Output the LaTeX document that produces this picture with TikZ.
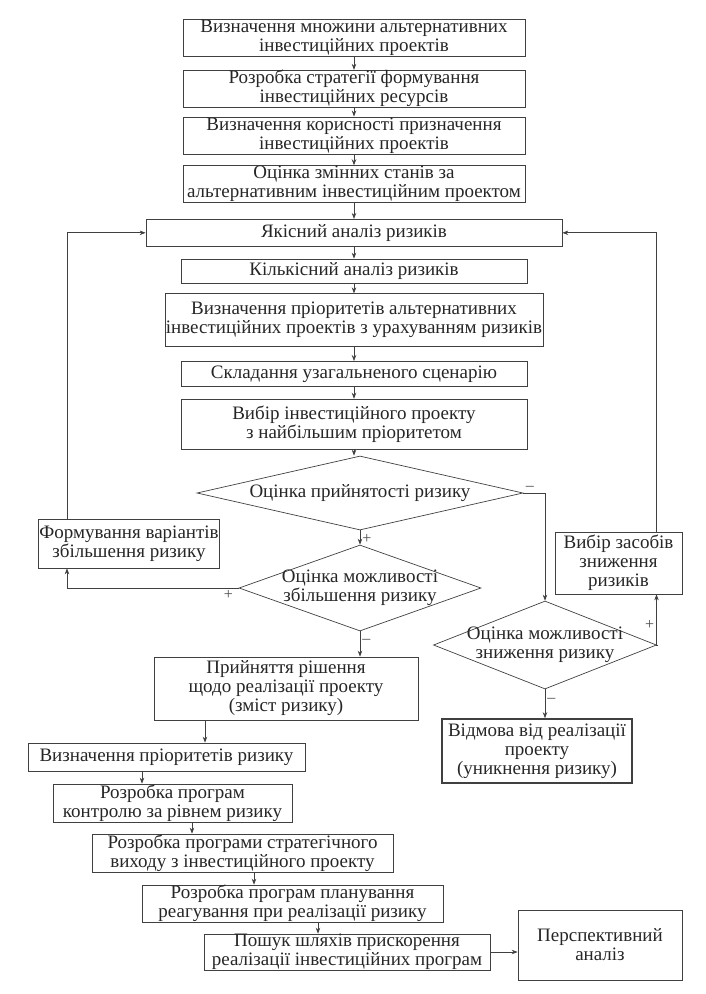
\documentclass[tikz,border=0pt]{standalone}
\usepackage{fontspec}
\setmainfont{Liberation Serif}
\usetikzlibrary{arrows.meta, positioning, shapes.geometric, calc}

\begin{document}
\begin{tikzpicture}[
  x=1pt, y=1pt,
  font=\fontsize{19}{19}\selectfont,
  >={Stealth[length=6pt, width=4.5pt]},
  line width=0.7pt,
  node distance=12pt,
  box/.style={draw=black!75, text=black!85, align=center, inner xsep=1pt, inner ysep=0pt},
  dec/.style={draw=black!75, text=black!85, diamond, align=center, inner sep=-7pt},
  conn/.style={draw=black!75, ->},
  sign/.style={font=\fontsize{16}{16}\selectfont, text=black!70, inner sep=2pt},
]
  \useasboundingbox (0,0) rectangle (706,-994);

  \node[box, minimum width=342, minimum height=37] (b1) at (354,-38) {Визначення множини альтернативних\\інвестиційних проектів};
  \node[box, below=13pt of b1, minimum width=342, minimum height=37] (b2) {Розробка стратегії формування\\інвестиційних ресурсів};
  \node[box, below=9pt of b2, minimum width=342, minimum height=37] (b3) {Визначення корисності призначення\\інвестиційних проектів};
  \node[box, below=11pt of b3, minimum width=342, minimum height=37] (b4) {Оцінка змінних станів за\\альтернативним інвестиційним проектом};
  \node[box, below=16pt of b4, minimum width=416, minimum height=27] (yak) {Якісний аналіз ризиків};
  \node[box, below=12pt of yak, minimum width=346, minimum height=24] (kil) {Кількісний аналіз ризиків};
  \node[box, below=10pt of kil, minimum width=372, minimum height=53] (prior) {Визначення пріоритетів альтернативних\\інвестиційних проектів з урахуванням ризиків};
  \node[box, below=14pt of prior, minimum width=346, minimum height=25] (scen) {Складання узагальненого сценарію};
  \node[box, below=12pt of scen, minimum width=346, minimum height=50] (vyb) {Вибір інвестиційного проекту\\з найбільшим пріоритетом};

  \node[dec, aspect=4.4, minimum width=326, minimum height=74] (d1) at (360,-493) {Оцінка прийнятості ризику};
  \node[dec, aspect=2.8, minimum width=242, minimum height=86] (d2) at (360,-588) {Оцінка можливості\\збільшення ризику};
  \node[dec, aspect=2.5, minimum width=223, minimum height=88] (d3) at (545,-645) {Оцінка можливості\\зниження ризику};

  \node[box, minimum width=176, minimum height=49] (form) at (129,-543.5) {Формування варіантів\\збільшення ризику};
  \node[box, minimum width=127, minimum height=62] (zasob) at (618.5,-563) {Вибір засобів\\зниження\\ризиків};
  \node[box, minimum width=264, minimum height=63] (rish) at (286,-688.5) {Прийняття рішення\\щодо реалізації проекту\\(зміст ризику)};
  \node[box, line width=1.6pt, minimum width=190, minimum height=64] (vidm) at (537,-751) {Відмова від реалізації\\проекту\\(уникнення ризику)};

  \node[box, minimum width=277, minimum height=28] (prizr) at (166.5,-757) {Визначення пріоритетів ризику};
  \node[box, minimum width=239, minimum height=38] (kontr) at (172.5,-803) {Розробка програм\\контролю за рівнем ризику};
  \node[box, minimum width=301, minimum height=38] (strat) at (242.5,-853) {Розробка програми стратегічного\\виходу з інвестиційного проекту};
  \node[box, minimum width=301, minimum height=37] (plan) at (292.5,-903.5) {Розробка програм планування\\реагування при реалізації ризику};
  \node[box, minimum width=286, minimum height=36] (posh) at (347,-952) {Пошук шляхів прискорення\\реалізації інвестиційних програм};
  \node[box, minimum width=164, minimum height=70] (persp) at (600,-945) {Перспективний\\аналіз};

  % main column
  \draw[conn] (b1) -- (b2);
  \draw[conn] (b2) -- (b3);
  \draw[conn] (b3) -- (b4);
  \draw[conn] (b4) -- (yak);
  \draw[conn] (yak) -- (kil);
  \draw[conn] (kil) -- (prior);
  \draw[conn] (prior) -- (scen);
  \draw[conn] (scen) -- (vyb);
  \draw[conn] (vyb.south) -- (vyb.south |- d1.north);

  % decisions
  \draw[conn] (d1.south) -- (d2.north) node[sign, pos=0.6, right] {+};
  \draw[conn] (d1.east) -| (d3.north) node[sign, pos=0.15, above] {--};
  \draw[conn] (d2.west) -| ([xshift=-62pt]form.south) node[sign, pos=0.03, below] {+};
  \draw[conn] ([xshift=-62pt]form.north) |- (yak.west);
  \draw[conn] (d3.east) -| ([xshift=38pt]zasob.south) node[sign, pos=0.7, left] {+};
  \draw[conn] ([xshift=38pt]zasob.north) |- (yak.east);
  \draw[conn] (d2.south) -- (d2.south |- rish.north) node[sign, pos=0.4, right] {--};
  \draw[conn] (d3.south) -- (d3.south |- vidm.north) node[sign, pos=0.4, right] {--};

  % final chain
  \draw[conn] ([xshift=-81pt]rish.south) -- ([xshift=-81pt]rish.south |- prizr.north);
  \draw[conn] ([xshift=-24.5pt]prizr.south) -- ([xshift=-24.5pt]prizr.south |- kontr.north);
  \draw[conn] ([xshift=19.5pt]kontr.south) -- ([xshift=19.5pt]kontr.south |- strat.north);
  \draw[conn] ([xshift=11.5pt]strat.south) -- ([xshift=11.5pt]strat.south |- plan.north);
  \draw[conn] ([xshift=25.5pt]plan.south) -- ([xshift=25.5pt]plan.south |- posh.north);
  \draw[conn] (posh.east) -- (posh.east -| persp.west);
\end{tikzpicture}
\end{document}
